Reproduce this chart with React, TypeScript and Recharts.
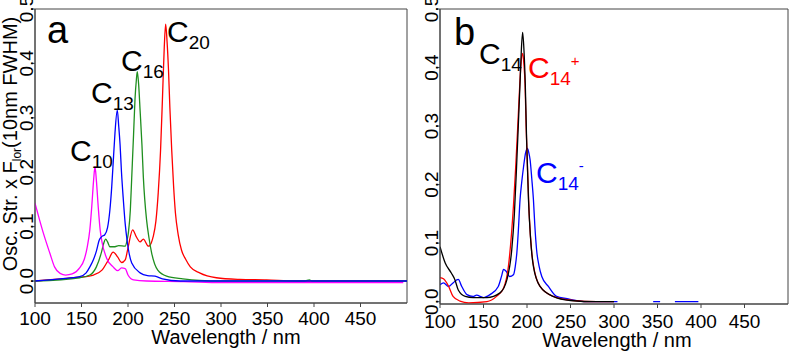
import { LineChart, Line, XAxis, YAxis, ReferenceArea } from 'recharts'

// wavelength (nm), oscillator strength
const c10: [number, number][] = [
  [100, 0.143], [104, 0.118], [109, 0.088], [116, 0.051], [121, 0.026], [127, 0.014],
  [133, 0.011], [140, 0.013], [148, 0.024], [153, 0.04], [156, 0.061], [159, 0.095],
  [161, 0.136], [163, 0.185], [164.5, 0.21], [166, 0.185], [168, 0.136], [170, 0.095],
  [172, 0.072], [177, 0.042], [184, 0.026], [189, 0.019], [193, 0.024], [197, 0.023],
  [200, 0.011], [206, 0.002], [220, 0.0], [260, -0.001], [300, -0.003], [400, -0.003], [496, -0.003],
]
const c13: [number, number][] = [
  [100, 0], [127, 0.004], [148, 0.008], [155, 0.015], [159, 0.026], [163, 0.04], [166, 0.055],
  [169, 0.075], [172, 0.082], [175, 0.085], [178, 0.098], [180.5, 0.13], [182.5, 0.173],
  [184.5, 0.23], [186, 0.272], [188.5, 0.314], [190, 0.285], [191.5, 0.25], [193, 0.2],
  [195, 0.149], [197, 0.105], [199, 0.075], [204, 0.033], [213, 0.015], [221, 0.01],
  [229, 0.009], [237, 0.004], [256, 0], [500, 0],
]
const c16: [number, number][] = [
  [100, 0], [148, 0.006], [159, 0.011], [166, 0.026], [171.5, 0.053], [174, 0.07], [176, 0.077],
  [178, 0.072], [180.5, 0.063], [186, 0.063], [190, 0.065], [197, 0.064], [199, 0.075],
  [200.5, 0.09], [202.5, 0.13], [204, 0.19], [206, 0.27], [207.5, 0.333], [209, 0.37],
  [210, 0.385], [211.5, 0.36], [213, 0.314], [215, 0.25], [216.5, 0.191], [218, 0.15],
  [220, 0.112], [222.5, 0.08], [225.5, 0.051], [232, 0.02], [241.5, 0.009], [259, 0.004],
  [277, 0.001], [300, 0], [390, 0], [395, 0.002], [398, 0], [500, 0],
]
const c20: [number, number][] = [
  [100, 0], [134, 0.005], [148, 0.007], [163, 0.011], [172, 0.02], [179, 0.039], [184, 0.053],
  [189, 0.044], [193, 0.034], [197, 0.039], [200, 0.061], [205, 0.094], [209, 0.081],
  [213, 0.072], [216.5, 0.077], [222, 0.064], [225, 0.07], [227, 0.081], [230, 0.11],
  [232.5, 0.162], [235, 0.24], [237, 0.333], [239, 0.43], [240.5, 0.472], [242, 0.44],
  [243.5, 0.39], [245, 0.32], [247, 0.241], [249, 0.175], [251, 0.125], [254, 0.085],
  [257.5, 0.057], [262, 0.04], [267, 0.026], [277, 0.015], [295, 0.006], [320, 0.003],
  [349, 0.002], [380, 0], [500, 0],
]

const c14: [number, number][] = [
  [100, 0.094], [106, 0.066], [113, 0.049], [117, 0.038], [121, 0.02], [129, 0.009],
  [138, 0.007], [154, 0.007], [169, 0.015], [177, 0.038], [182.5, 0.089], [185.5, 0.15],
  [188, 0.23], [190, 0.3], [192, 0.373], [193.5, 0.43], [195, 0.46], [196.5, 0.43],
  [198, 0.373], [199.5, 0.28], [201.7, 0.174], [204, 0.11], [207.4, 0.06], [215, 0.026],
  [230, 0.009], [250, 0.002], [280, 0], [300, 0],
]
const c14plus: [number, number][] = [
  [100, 0.041], [104, 0.039], [110, 0.026], [115, 0.009], [123, 0.001], [133, -0.002],
  [154, 0], [165, 0.009], [173, 0.023], [178.6, 0.06], [184.4, 0.163], [187, 0.23],
  [189, 0.288], [191, 0.35], [193, 0.405], [195, 0.424], [196.5, 0.405], [197.8, 0.37],
  [199, 0.3], [200.5, 0.23], [202.5, 0.15], [205.5, 0.083], [209, 0.05], [215, 0.026],
  [230, 0.009], [253, 0.002], [280, 0], [300, 0],
]
const c14minus: [number, number | null][] = [
  [100, 0.029], [104, 0.032], [110, 0.026], [115, 0.032], [121, 0.038], [125, 0.026],
  [131, 0.012], [138, 0.009], [142, 0.011], [150, 0.007], [157.5, 0.012], [167, 0.026],
  [171, 0.045], [173, 0.055], [176, 0.052], [180, 0.043], [184.4, 0.046], [186.5, 0.06],
  [188.3, 0.083], [190, 0.12], [192, 0.174], [194, 0.205], [196, 0.23], [198.5, 0.255],
  [200.5, 0.262], [202, 0.255], [203.6, 0.242], [205.5, 0.21], [207.4, 0.174], [209, 0.13],
  [211, 0.089], [214, 0.06], [217, 0.043], [224.6, 0.026], [234, 0.009], [246, 0.005],
  [269, 0], [304, 0], [320, null], [345, 0], [353, 0], [360, null], [370, 0], [397, 0],
]

const xTicks = [100, 150, 200, 250, 300, 350, 400, 450]
const yTicks = [0, 0.1, 0.2, 0.3, 0.4, 0.5]

const FONT = '"Liberation Sans", Arial, sans-serif'
const FRAME = '#444'

const toPoints = (arr: [number, number | null][]) => arr.map(([x, y]) => ({ x, y }))

function Panel({
  width,
  yAxisWidth,
  right,
  xAxisHeight,
  yDomain,
  yLabelX,
  xLabelDy,
  series,
}: {
  width: number
  yAxisWidth: number
  right: number
  xAxisHeight: number
  yDomain: [number, number]
  yLabelX: number
  xLabelDy: number
  series: { data: [number, number | null][]; color: string }[]
}) {
  return (
    <LineChart
      width={width}
      height={354}
      margin={{ top: 9, right, bottom: 0, left: 0 }}
      style={{ fontFamily: FONT }}
    >
      <XAxis
        dataKey="x"
        type="number"
        domain={[100, 500]}
        ticks={xTicks}
        allowDataOverflow
        height={xAxisHeight}
        tickSize={4}
        tickLine={{ stroke: FRAME }}
        axisLine={{ stroke: FRAME }}
        tick={(p: any) => (
          <text x={p.x} y={p.y + xLabelDy} textAnchor="middle" fontSize={19} fill="#000" fontFamily={FONT}>
            {p.payload.value}
          </text>
        )}
      />
      <YAxis
        type="number"
        domain={yDomain}
        ticks={yTicks}
        allowDataOverflow
        width={yAxisWidth}
        tickSize={4}
        tickLine={{ stroke: FRAME }}
        axisLine={{ stroke: FRAME }}
        tick={(p: any) => (
          <text
            x={yLabelX}
            y={p.y}
            transform={`rotate(-90 ${yLabelX} ${p.y})`}
            textAnchor="middle"
            fontSize={19}
            fill="#000"
            fontFamily={FONT}
          >
            {p.payload.value.toFixed(1)}
          </text>
        )}
      />
      <ReferenceArea x1={100} x2={500} y1={yDomain[0]} y2={yDomain[1]} fill="none" stroke={FRAME} strokeWidth={1} />
      {series.map((s, i) => (
        <Line
          key={i}
          data={toPoints(s.data)}
          dataKey="y"
          type="monotone"
          stroke={s.color}
          strokeWidth={1.3}
          dot={false}
          isAnimationActive={false}
        />
      ))}
    </LineChart>
  )
}

function Species({ x, y, sub, sup, color = '#000' }: { x: number; y: number; sub: string; sup?: string; color?: string }) {
  return (
    <text x={x} y={y} fontSize={30} fill={color}>
      C<tspan fontSize={19} dy={7}>{sub}</tspan>
      {sup ? <tspan fontSize={15} dy={-19}>{sup}</tspan> : null}
    </text>
  )
}

export default function App() {
  return (
    <div style={{ position: 'absolute', left: 0, top: 0, width: 789, height: 354, background: '#fff', fontFamily: FONT }}>
      <div style={{ position: 'absolute', left: 0, top: 0 }}>
        <Panel
          width={420}
          yAxisWidth={35}
          right={13}
          xAxisHeight={51}
          yDomain={[-0.0404, 0.5]}
          yLabelX={33}
          xLabelDy={16}
          series={[
            { data: c20, color: '#ff0000' },
            { data: c16, color: '#1f8f1f' },
            { data: c10, color: '#ff00ff' },
            { data: c13, color: '#0000ff' },
          ]}
        />
      </div>
      <div style={{ position: 'absolute', left: 400, top: 0 }}>
        <Panel
          width={389}
          yAxisWidth={40}
          right={1}
          xAxisHeight={50}
          yDomain={[-0.004, 0.5]}
          yLabelX={38}
          xLabelDy={18}
          series={[
            { data: c14minus, color: '#0000ff' },
            { data: c14plus, color: '#ff0000' },
            { data: c14, color: '#000000' },
          ]}
        />
      </div>
      <svg width={789} height={354} style={{ position: 'absolute', left: 0, top: 0, pointerEvents: 'none' }} fontFamily={FONT}>
        <text x={17} y={144} transform="rotate(-90 17 144)" textAnchor="middle" fontSize={20} fill="#000">
          Osc. Str. x F<tspan fontSize={12} dy={4}>lor</tspan>
          <tspan dy={-4}>(10nm FWHM)</tspan>
        </text>
        <text x={226} y={344} textAnchor="middle" fontSize={20} fill="#000">Wavelength / nm</text>
        <text x={617} y={347} textAnchor="middle" fontSize={20} fill="#000">Wavelength / nm</text>

        <text x={47} y={43} fontSize={38} fill="#000">a</text>
        <Species x={167} y={42} sub="20" />
        <Species x={121} y={71} sub="16" />
        <Species x={91} y={103} sub="13" />
        <Species x={70} y={161} sub="10" />

        <text x={454} y={45} fontSize={38} fill="#000">b</text>
        <Species x={479} y={64} sub="14" />
        <Species x={528} y={78} sub="14" sup="+" color="#ff0000" />
        <Species x={536} y={183} sub="14" sup="-" color="#0000ff" />
      </svg>
    </div>
  )
}
